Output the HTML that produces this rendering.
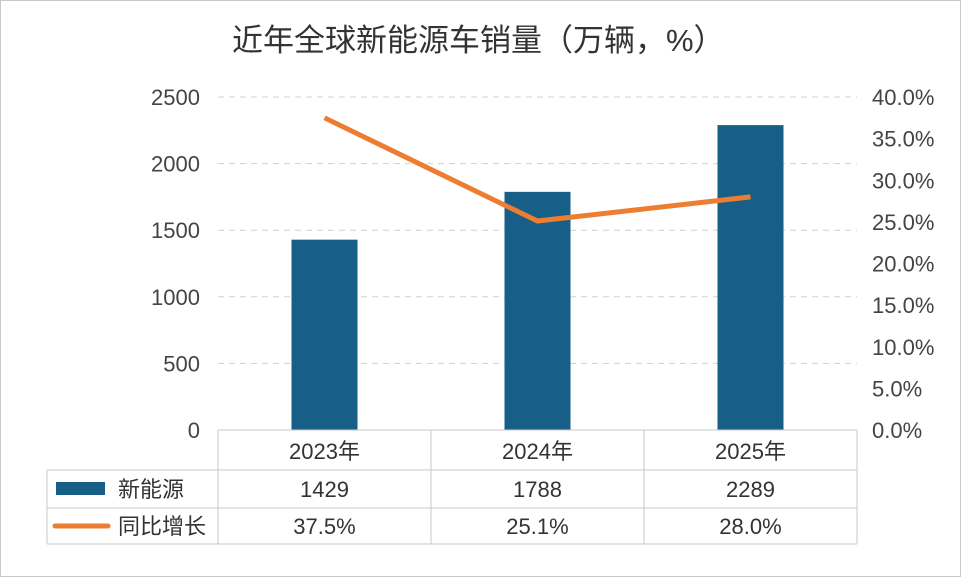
<!DOCTYPE html>
<html><head><meta charset="utf-8"><style>
html,body{margin:0;padding:0;background:#fff;}
svg{display:block;font-family:"Liberation Sans","Noto Sans CJK SC",sans-serif;}
</style></head><body>
<svg id="chart" width="962" height="578" viewBox="0 0 962 578" xmlns="http://www.w3.org/2000/svg">
<rect x="0.5" y="0.5" width="960" height="576" fill="#fff" stroke="#c8c8c8"/>
<text x="232" y="51" font-size="31" fill="#333">近年全球新能源车销量（万辆，%）</text>
<g id="grid"></g><g id="bars"></g><g id="line"></g><g id="axes"></g><g id="table"></g>
</svg>
<script>
const categories=["2023年","2024年","2025年"];
const salesValues=[1429,1788,2289];
const growthValues=[37.5,25.1,28.0];
const leftTicks=[0,500,1000,1500,2000,2500];
const rightTicks=[0,5,10,15,20,25,30,35,40];
const NS="http://www.w3.org/2000/svg";
const X0=218,X1=857,Y0=430,Y1=97;
const band=(X1-X0)/categories.length;
const xc=i=>X0+band*(i+0.5);
const yL=v=>Y0-(v/2500)*(Y0-Y1);
const yR=v=>Y0-(v/40)*(Y0-Y1);
function mk(tag,attrs,parent,txt){const e=document.createElementNS(NS,tag);for(const k in attrs)e.setAttribute(k,attrs[k]);if(txt!==undefined)e.textContent=txt;document.getElementById(parent).appendChild(e);return e;}
leftTicks.forEach(t=>{
  if(t>0){const g=mk('line',{x1:X0,x2:X1,y1:yL(t),y2:yL(t),stroke:'#d0d0d0','stroke-dasharray':'6,5'},'grid');
  
  }
  const l=mk('text',{x:200,y:yL(t)+8,'text-anchor':'end','font-size':22,fill:'#444'},'axes',String(t));
  
  
});
rightTicks.forEach(t=>{
  const l=mk('text',{x:872,y:yR(t)+8,'font-size':22,fill:'#444'},'axes',t.toFixed(1)+'%');
  
  
});
const bw=66;
salesValues.forEach((v,i)=>{
  const r=mk('rect',{x:xc(i)-bw/2,y:yL(v),width:bw,height:Y0-yL(v),fill:'#175f86'},'bars');
  
  
});
const pts=growthValues.map((v,i)=>xc(i)+','+yR(v)).join(' ');
const pl=mk('polyline',{points:pts,fill:'none',stroke:'#ed7d31','stroke-width':5,'stroke-linejoin':'round'},'line');


const tc='#c8c8c8';
function ln(x1,y1,x2,y2,name){const e=mk('line',{x1,y1,x2,y2,stroke:tc,'stroke-width':1},'table');

}
ln(X0,430,X1,430,'table-border');
ln(47,470,X1,470,'table-border');
ln(47,508,X1,508,'table-border');
ln(47,544,X1,544,'table-border');
ln(47,470,47,544,'table-border');
for(let i=0;i<=categories.length;i++){ln(X0+band*i,430,X0+band*i,544,'table-border');}
categories.forEach((c,i)=>{
  const a=mk('text',{x:xc(i),y:459,'text-anchor':'middle','font-size':22,fill:'#333'},'table',c);
  
  
  const b=mk('text',{x:xc(i),y:497,'text-anchor':'middle','font-size':22,fill:'#333'},'table',String(salesValues[i]));
  
  
  const d=mk('text',{x:xc(i),y:534,'text-anchor':'middle','font-size':22,fill:'#333'},'table',growthValues[i].toFixed(1)+'%');
  
  
});
const k1=mk('rect',{x:56,y:482,width:49,height:13,fill:'#175f86'},'table');


const t1=mk('text',{x:118,y:497,'font-size':22,fill:'#333'},'table','新能源');


const k2=mk('line',{x1:55,y1:526,x2:108,y2:526,stroke:'#ed7d31','stroke-width':5,'stroke-linecap':'round'},'table');


const t2=mk('text',{x:118,y:534,'font-size':22,fill:'#333'},'table','同比增长');


</script>
</body></html>
